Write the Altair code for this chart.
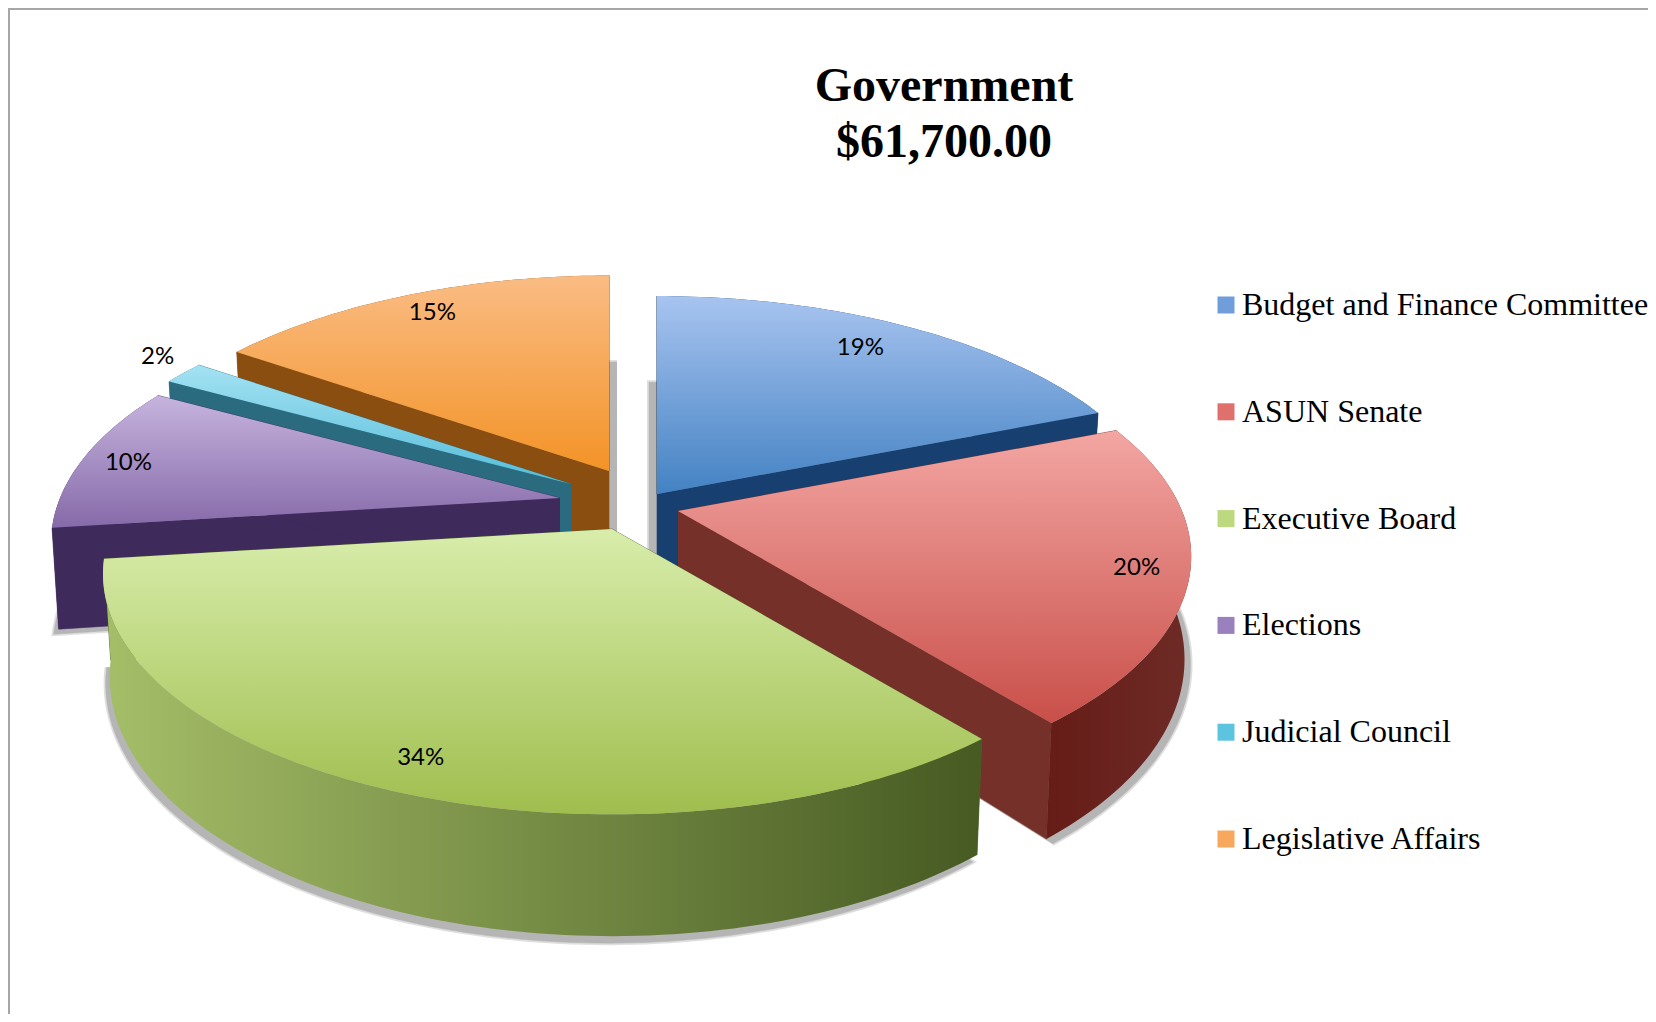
import math
import altair as alt
import pandas as pd

# ---- chart values -------------------------------------------------
names = ["Budget and Finance Committee", "ASUN Senate", "Executive Board",
         "Elections", "Judicial Council", "Legislative Affairs"]
shares = [19.0, 20.1, 33.9, 10.0, 1.6, 15.4]
title_lines = ["Government", "$61,700.00"]

# ---- styling ------------------------------------------------------
legend_colors = ["#6f9edb", "#e0706c", "#bcd97f", "#9a80bd", "#5cc4de", "#f7a85c"]
top_from = ["#a8c4f0", "#f3a6a3", "#d8edab", "#c6b4de", "#a4e2f3", "#fabc84"]
top_to = ["#4382c3", "#c94f49", "#9fbe4e", "#866aa9", "#55bdd9", "#f39327"]
wall_colors = ["#173f70", "#743029", "#4d6326", "#3f2a5c", "#2a6b80", "#8a4e10"]
outer_from = ["#173f70", "#661c17", "#a5be68", "#3f2a5c", "#2a6b80", "#8a4e10"]
outer_to = ["#173f70", "#6e2b26", "#465a22", "#3f2a5c", "#2a6b80", "#8a4e10"]
apex_x = [657, 678, 612, 560, 571, 609]
apex_y = [494, 511, 529, 498, 484, 471]
slice_scale = [1.015, 1.008, 1.0, 1.0, 1.0, 1.0]
shadow_dx = [-8, 6, -4, -5, 0, 8]
shadow_dy = [3, 5, 7, 5, 0, 3]
label_reach = [0.87, 0.93, 0.89, 0.90, 1.10, 0.88]
label_dx = [-15, -16, 4, -3, 9, 2]
label_dy = [3, 0, 2, 3, -6, 0]
draw_order = [5, 4, 3, 0, 1, 2]
RX, RY, TILT, DEPTH, SHRINK = 500.0, 232.0, 0.187, 99.0, 0.987
X_DOMAIN, Y_DOMAIN = [8, 1648], [1014, 8]


def project(i, angle, reach=1.0, lower=False):
    r = reach * slice_scale[i]
    u, v = math.sin(angle) * r, math.cos(angle) * r
    w = 1 + TILT * v
    dx, dy = RX * u / w, -RY * v / w
    if lower:
        return apex_x[i] + dx * SHRINK, apex_y[i] + dy + DEPTH / w
    return apex_x[i] + dx, apex_y[i] + dy


def spans():
    out, acc = [], 0.0
    total = sum(shares)
    for s in shares:
        a0 = acc / total * 2 * math.pi
        acc += s
        out.append((a0, acc / total * 2 * math.pi))
    return out


def arc_angles(a0, a1):
    n = max(6, int((a1 - a0) / 0.02))
    return [a0 + (a1 - a0) * k / n for k in range(n + 1)]


def frame(points):
    return pd.DataFrame({"x": [p[0] for p in points], "y": [p[1] for p in points],
                         "i": list(range(len(points)))})


x_enc = alt.X("x:Q", axis=None, scale=alt.Scale(domain=X_DOMAIN, nice=False, zero=False))
y_enc = alt.Y("y:Q", axis=None, scale=alt.Scale(domain=Y_DOMAIN, nice=False, zero=False))


def poly(points, fill, **kw):
    return alt.Chart(frame(points)).mark_line(fill=fill, stroke=kw.pop("stroke", fill),
                                              strokeWidth=kw.pop("strokeWidth", 0.6),
                                              interpolate="linear", **kw).encode(
        x=x_enc, y=y_enc, order=alt.Order("i:Q"))


def vgrad(c0, c1):
    return alt.Gradient(gradient="linear", x1=0, y1=0, x2=0, y2=1,
                        stops=[alt.GradientStop(color=c0, offset=0),
                               alt.GradientStop(color=c1, offset=1)])


def hgrad(c0, c1):
    return alt.Gradient(gradient="linear", x1=0, y1=0, x2=1, y2=0,
                        stops=[alt.GradientStop(color=c0, offset=0),
                               alt.GradientStop(color=c1, offset=1)])


layers = []
sp = spans()

# soft ground shadows
for i in draw_order:
    a0, a1 = sp[i]
    pts = [project(i, 0, 0, True)] + [project(i, a, 1, True) for a in arc_angles(a0, a1)]
    pts = [(x + shadow_dx[i], y + shadow_dy[i]) for x, y in pts]
    layers.append(poly(pts, "#b0b0b0", stroke="#b0b0b0", strokeWidth=4, opacity=0.4))
    layers.append(poly(pts, "#9a9a9a", stroke="#9a9a9a", strokeWidth=0.5, opacity=0.6))

# slices, back to front
for i in draw_order:
    a0, a1 = sp[i]
    for edge in (a0, a1):
        pts = [project(i, edge, 0), project(i, edge), project(i, edge, 1, True), project(i, edge, 0, True)]
        layers.append(poly(pts, wall_colors[i]))
    angs = arc_angles(a0, a1)
    pts = [project(i, a) for a in angs] + [project(i, a, 1, True) for a in reversed(angs)]
    layers.append(poly(pts, hgrad(outer_from[i], outer_to[i]), strokeWidth=0))
    pts = [project(i, 0, 0)] + [project(i, a) for a in angs]
    layers.append(poly(pts, vgrad(top_from[i], top_to[i]), strokeWidth=0))

# percentage labels
label_pts = [project(i, (sp[i][0] + sp[i][1]) / 2, label_reach[i]) for i in range(len(shares))]
label_df = pd.DataFrame({"x": [p[0] + d for p, d in zip(label_pts, label_dx)],
                         "y": [p[1] + d for p, d in zip(label_pts, label_dy)],
                         "label": [f"{round(s)}%" for s in shares]})
layers.append(alt.Chart(label_df).mark_text(font="Lato", fontSize=24, color="#000000").encode(
    x=x_enc, y=y_enc, text="label:N"))

# frame lines
marker = pd.DataFrame({"a": [0]})
layers.append(alt.Chart(marker).mark_rule(color="#a6a6a6", strokeWidth=2).encode(x=alt.value(1)))
layers.append(alt.Chart(marker).mark_rule(color="#a6a6a6", strokeWidth=2).encode(y=alt.value(1)))

# legend carrier
legend_df = pd.DataFrame({"name": names, "x": [800] * len(names), "y": [500] * len(names)})
layers.append(alt.Chart(legend_df).mark_square(size=0, opacity=1).encode(
    x=x_enc, y=y_enc,
    color=alt.Color("name:N", scale=alt.Scale(domain=names, range=legend_colors),
                    sort=names,
                    legend=alt.Legend(orient="none", legendX=1202, legendY=281, title=None,
                                      symbolType="square", symbolSize=289, symbolStrokeWidth=0,
                                      symbolOpacity=1,
                                      labelFont="Liberation Serif", labelFontSize=32,
                                      labelColor="#000000", labelLimit=500, labelOffset=0,
                                      rowPadding=74.8))))

chart = alt.layer(*layers).properties(
    width=1640, height=1006, padding=0,
    autosize=alt.AutoSizeParams(type="none"),
    background="#ffffff",
    title=alt.TitleParams(text=title_lines, font="Liberation Serif", fontSize=48,
                          fontWeight="bold", color="#000000", lineHeight=56,
                          anchor="middle", dx=116, dy=164, baseline="top"),
).configure_view(stroke=None)

chart.save("out.html", embed_options={"renderer": "svg", "actions": False})
